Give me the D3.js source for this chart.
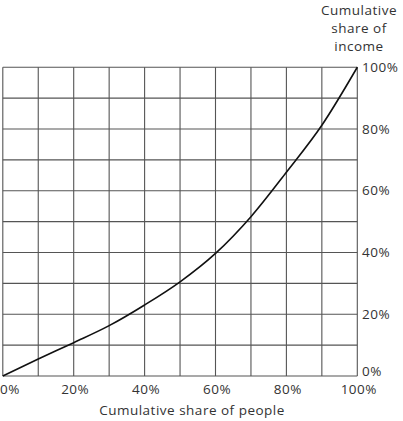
<!DOCTYPE html>
<html>
<head>
<meta charset="utf-8">
<script src="https://cdn.jsdelivr.net/npm/d3@7"></script>
<style>
  body { margin: 0; background: #fff; }
  text { font-family: "Open Sans", sans-serif; fill: #333; font-size: 13.5px; letter-spacing: 0.5px; }
</style>
</head>
<body>
<script>
var width = 403, height = 421;

// cumulative share of people (%) and income (%)
var peopleShare = [0, 10, 20, 30, 40, 50, 60, 70, 80, 90, 100];
var incomeShare = [0, 5.5, 10.8, 16.3, 23, 30.5, 39.7, 51.6, 66, 81.2, 100];
var xTicks = [0, 20, 40, 60, 80, 100];
var yTicks = [0, 20, 40, 60, 80, 100];
var gridSteps = [0, 10, 20, 30, 40, 50, 60, 70, 80, 90, 100];
var yTitle = ["Cumulative", "share of", "income"];
var xTitle = "Cumulative share of people";

var svg = d3.select("body")
            .append("svg")
            .attr("width", width)
            .attr("height", height);

var x = d3.scaleLinear().domain([0, 100]).range([2.8, 357.3]);
var y = d3.scaleLinear().domain([0, 100]).range([376, 67.2]);

// grid
svg.selectAll("line.vgrid")
   .data(gridSteps)
   .enter()
   .append("line")
   .attr("class", "vgrid")
   .attr("x1", function(d) { return x(d); })
   .attr("x2", function(d) { return x(d); })
   .attr("y1", y(0))
   .attr("y2", y(100))
   .style("stroke", "#555")
   .style("stroke-width", 1.1);

svg.selectAll("line.hgrid")
   .data(gridSteps)
   .enter()
   .append("line")
   .attr("class", "hgrid")
   .attr("x1", x(0))
   .attr("x2", x(100))
   .attr("y1", function(d) { return y(d); })
   .attr("y2", function(d) { return y(d); })
   .style("stroke", "#555")
   .style("stroke-width", 1.1);

// curve
var points = peopleShare.map(function(p, i) { return [p, incomeShare[i]]; });
var line = d3.line()
             .x(function(d) { return x(d[0]); })
             .y(function(d) { return y(d[1]); })
             .curve(d3.curveMonotoneX);

svg.append("path")
   .datum(points)
   .attr("d", line)
   .attr("fill", "none")
   .style("stroke", "#111")
   .style("stroke-width", 1.6);

// y tick labels on right
svg.selectAll("text.ylab")
   .data(yTicks)
   .enter()
   .append("text")
   .attr("class", "ylab")
   .attr("x", 362)
   .attr("y", function(d) { return d == 0 ? y(d) - 5 : y(d); })
   .attr("dy", "0.35em")
   .text(function(d) { return d + "%"; });

// x tick labels
svg.selectAll("text.xlab")
   .data(xTicks)
   .enter()
   .append("text")
   .attr("class", "xlab")
   .attr("x", function(d) { return d == 0 ? 0 : x(d) + 1.5; })
   .attr("y", 389)
   .attr("dy", "0.35em")
   .attr("text-anchor", function(d) { return d == 0 ? "start" : "middle"; })
   .text(function(d) { return d + "%"; });

// titles
svg.selectAll("text.ytitle")
   .data(yTitle)
   .enter()
   .append("text")
   .attr("class", "ytitle")
   .attr("x", 359)
   .attr("y", function(d, i) { return 10 + i * 18; })
   .attr("dy", "0.35em")
   .attr("text-anchor", "middle")
   .text(function(d) { return d; });

svg.append("text")
   .attr("x", 192)
   .attr("y", 410)
   .attr("dy", "0.35em")
   .attr("text-anchor", "middle")
   .text(xTitle);
</script>
</body>
</html>
